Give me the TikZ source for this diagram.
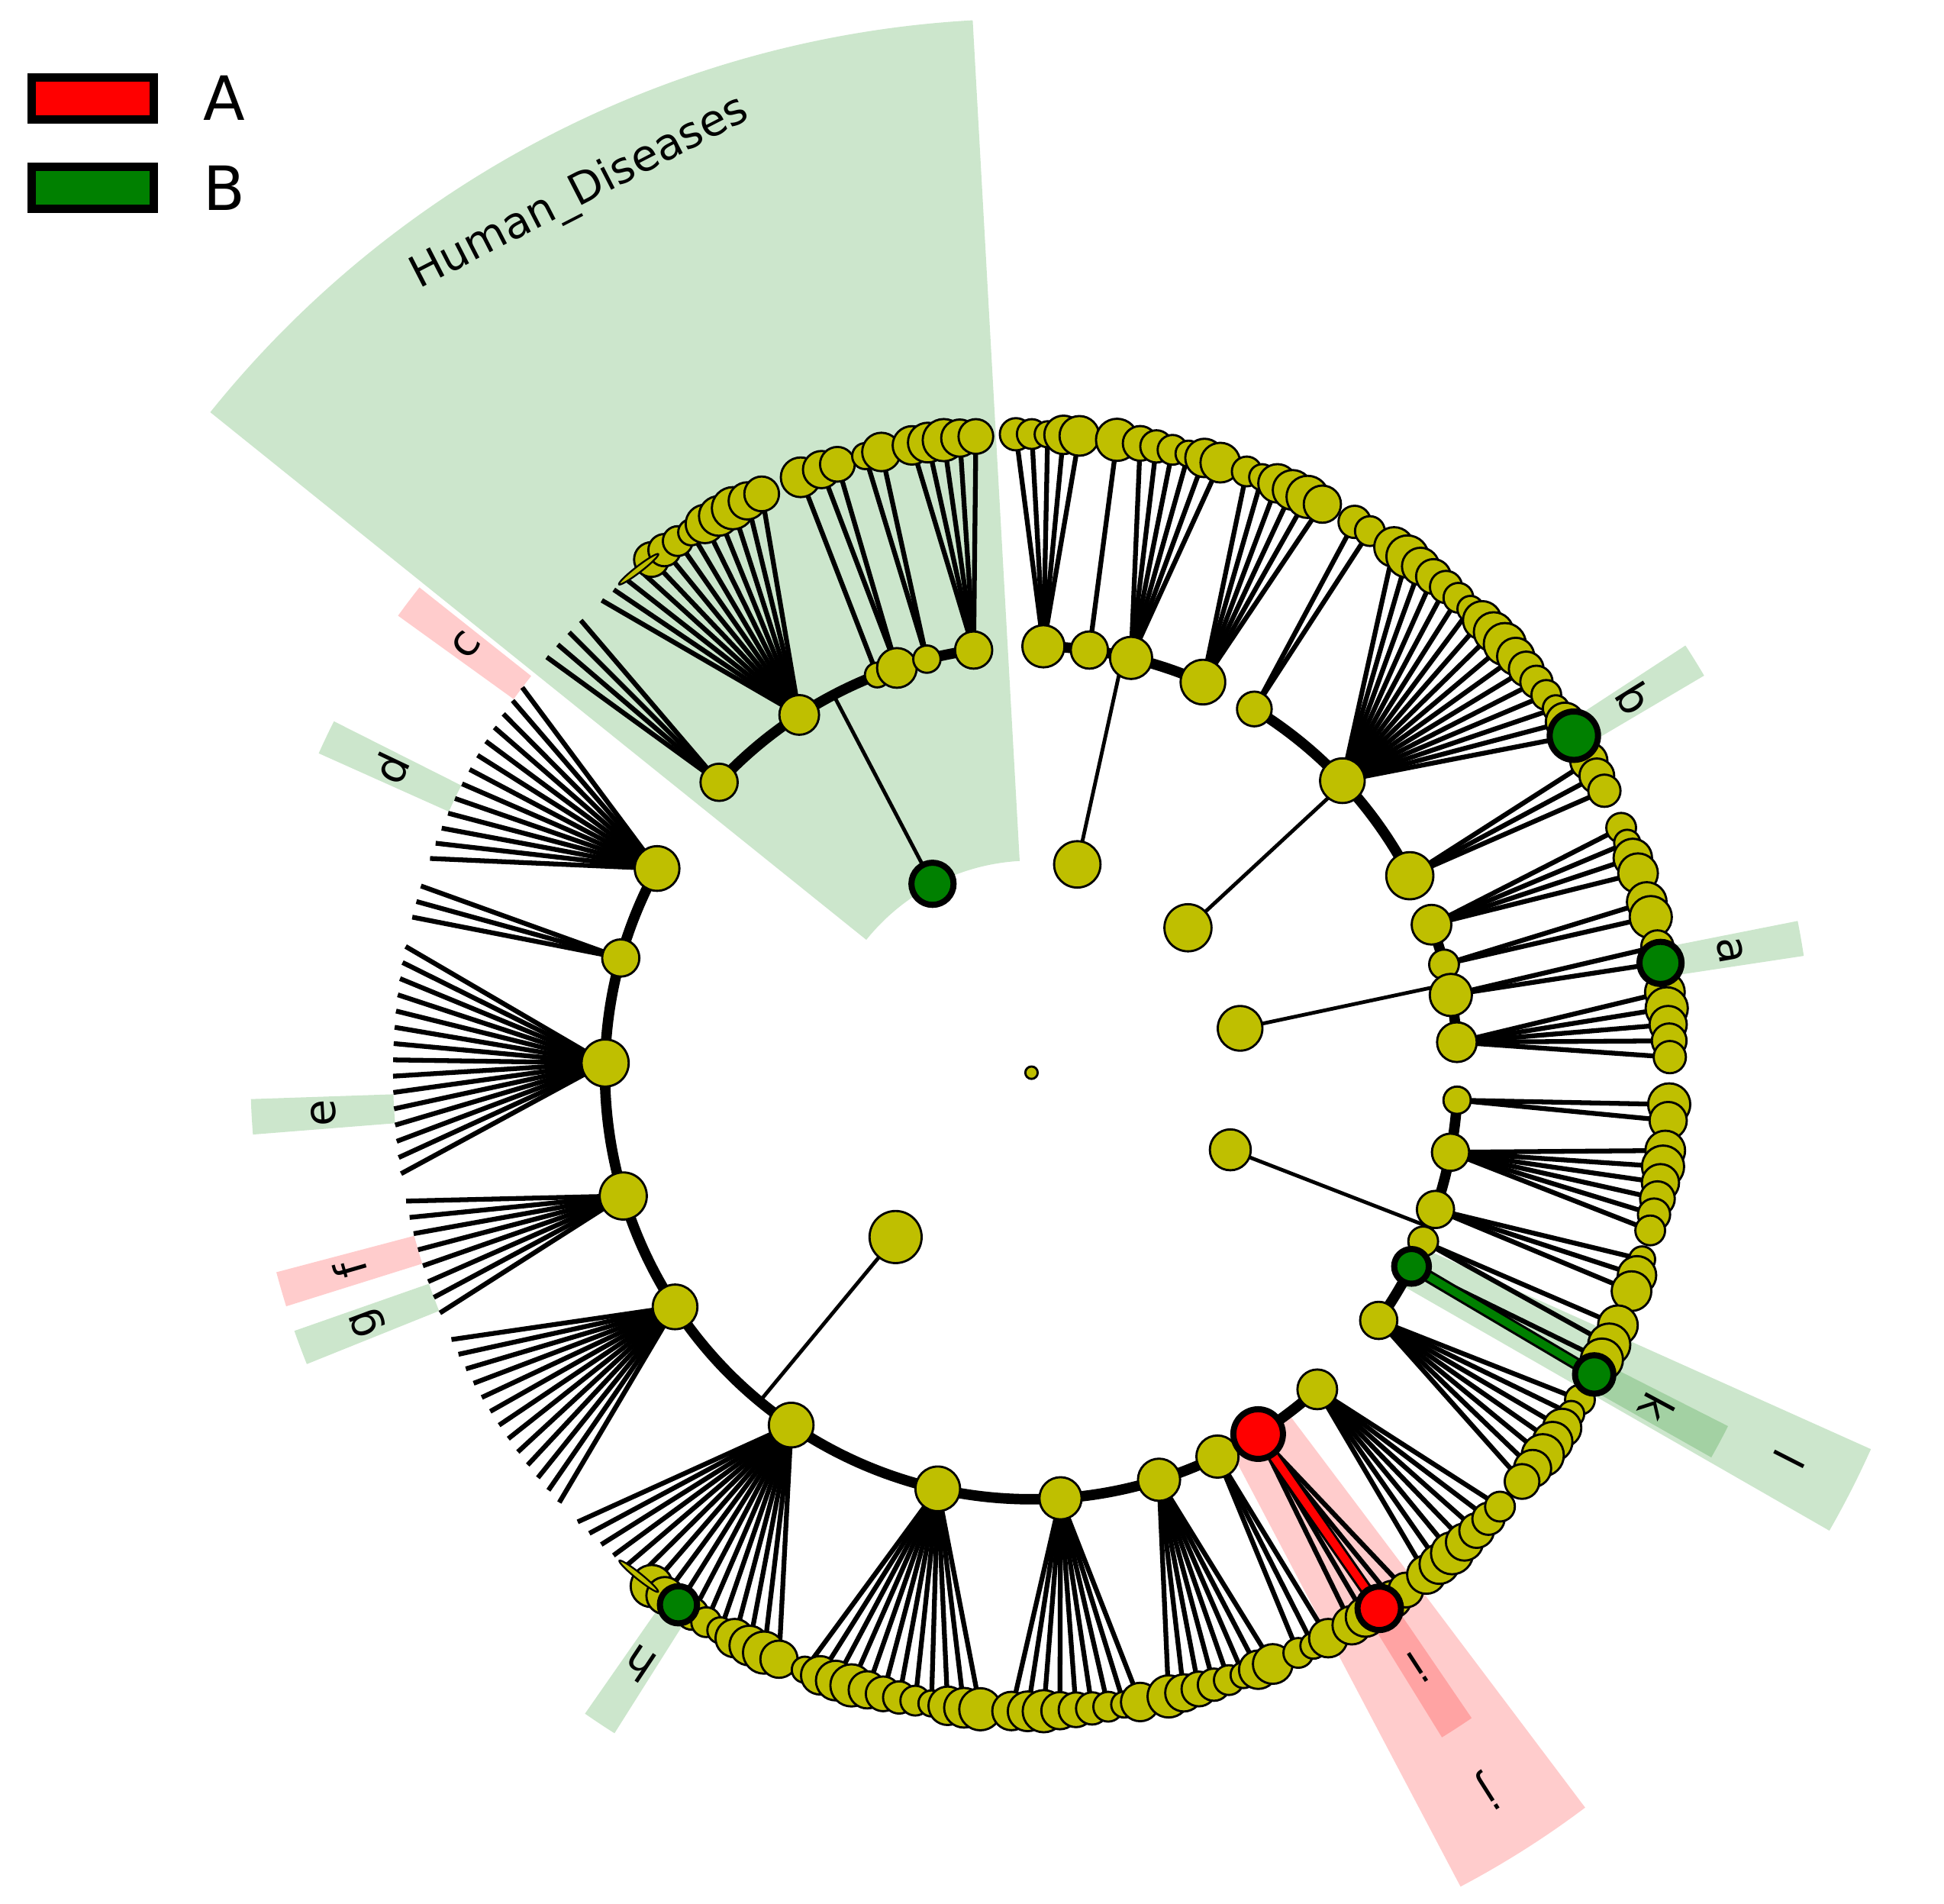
\documentclass[tikz,border=0pt]{standalone}
\usepackage{fontspec}
\setmainfont{DejaVu Sans}
\usetikzlibrary{calc}

\definecolor{cladeyel}{rgb}{0.75,0.75,0}
\definecolor{cladegrn}{rgb}{0,0.5,0}
\definecolor{cladered}{rgb}{1,0,0}

\pgfdeclarelayer{shade}
\pgfdeclarelayer{wire}
\pgfsetlayers{shade,wire,main}

\tikzset{
  dot/.style={circle, draw=black, line width=0.5pt, fill=cladeyel, inner sep=0pt},
  hitdot/.style={circle, draw=black, line width=1.4pt, inner sep=0pt},
  sliver/.style={fill=cladeyel, draw=black, line width=0.4pt},
  fanline/.style={line width=1.1pt},
  stem/.style={line width=0.85pt},
  ring/.style={line width=2.4pt},
  hitline/.style={line width=2.9pt},
  lbl/.style={font=\fontsize{10}{12}\selectfont, inner sep=0pt},
  legbox/.style={draw=black, line width=1.9pt, minimum width=0.99cm, minimum height=0.34cm, inner sep=0pt},
  legtext/.style={font=\fontsize{14}{16}\selectfont, inner sep=0pt},
}

% colour, start angle, end angle, inner radius, outer radius
\newcommand\cladesector[5]{%
  \fill[#1, fill opacity=0.2] (#2:#4) arc[start angle=#2, end angle=#3, radius=#4]
    -- (#3:#5) arc[start angle=#3, end angle=#2, radius=#5] -- cycle;}

\begin{document}
\begin{tikzpicture}
\useasboundingbox (-8.32,-6.70) rectangle (7.36,8.65);

% shaded clades
\begin{pgfonlayer}{shade}
\cladesector{cladegrn}{93.2}{141.2}{1.71}{8.50}
\cladesector{cladegrn}{-24.15}{-29.85}{3.44}{7.42}
\cladesector{cladered}{297.8}{307.0}{3.44}{7.42}
\foreach \th/\col in {9.9/cladegrn, 31.85/cladegrn, 142.9/cladered, 154.57/cladegrn,
  183.24/cladegrn, 196.1/cladered, 200.6/cladegrn, 236.43/cladegrn, 303.0/cladered, -28.2/cladegrn}{
  \cladesector{\col}{\th-1.3}{\th+1.3}{5.15}{6.30}
}
\end{pgfonlayer}

% labels
\foreach \t/\th in {a/9.9, b/31.85, c/142.9, d/154.57, e/183.24, f/196.1, g/200.6, h/236.43, i/303.0, k/-28.2}{
  \node[lbl, rotate=\th-90] (lab-\t) at (\th:5.72) {\t};
}
\node[lbl, rotate=-117] (lab-l) at (-27:6.86) {l};
\node[lbl, rotate=212.4] (lab-j) at (302.4:6.86) {j};
\node[lbl, rotate=27.2] (lab-hd) at (117.2:7.97) {Human\_Diseases};

% root and first level
\node[dot, minimum size=0.10cm] (root) at (0,0) {};
\foreach \nm/\th/\r/\sty/\col in {tl/117.67/17/hitdot/cladegrn, tt/77.6/18.7/dot/cladeyel,
  tu/42.8/19/dot/cladeyel, tv/12.0/18/dot/cladeyel, tw/-21.2/16.5/dot/cladeyel, tb/230.4/21/dot/cladeyel}{
  \node[\sty, fill=\col, minimum size=\r*0.02cm] (\nm) at (\th:1.72) {};
  \coordinate (\nm-foot) at (\th:3.44);
  \begin{pgfonlayer}{wire}
    \draw[stem] (\nm.center) -- (\nm-foot);
  \end{pgfonlayer}
}

% second level with fans of leaves
\foreach \nm/\th/\r/\sty/\col/\ta/\tb/\cnt/\bare in {
  n1/137.1/15/dot/cladeyel/139.4/134.9/4/4,
  n2/123.0/16/dot/cladeyel/132.3/115.0/13/4,
  n3/111.2/10/dot/cladeyel/111.2/111.2/1/0,
  n4/108.4/16/dot/cladeyel/109.2/107.7/2/0,
  n5/104.2/11/dot/cladeyel/105.1/103.6/2/0,
  n6/97.8/15/dot/cladeyel/100.8/95.0/5/0,
  t1/88.4/17/dot/cladeyel/91.4/85.7/5/0,
  t2/82.2/15/dot/cladeyel/82.3/82.3/1/0,
  t3/76.5/17/dot/cladeyel/80.2/72.8/6/0,
  t4/66.3/18/dot/cladeyel/70.3/62.9/6/0,
  u1/58.5/14/dot/cladeyel/59.6/58.0/2/0,
  u2/43.2/18/dot/cladeyel/55.4/31.85/17/0,
  u3/27.5/19/dot/cladeyel/29.2/26.2/3/0,
  v1/20.3/16/dot/cladeyel/22.55/18.2/4/0,
  v2/14.7/12/dot/cladeyel/15.5/14.1/2/0,
  v3/10.5/17/dot/cladeyel/11.4/9.9/2/0,
  v4/4.1/16/dot/cladeyel/7.25/1.4/5/0,
  w1/-3.7/11/dot/cladeyel/-2.85/-4.3/2/0,
  w2/-10.75/15/dot/cladeyel/-7.0/-14.3/6/0,
  w3/-18.7/15/dot/cladeyel/-17.0/-20.0/3/0,
  w4/-23.3/12/dot/cladeyel/-23.3/-25.2/2/0,
  w5/-27.0/14/hitdot/cladegrn/-26.7/-28.2/2/0,
  w6/-35.5/15/dot/cladeyel/-30.8/-39.8/7/0,
  l1/151.4/18/dot/cladeyel/142.9/160.4/13/13,
  l2/164.4/15/dot/cladeyel/163.0/165.9/3/3,
  l3/178.7/19/dot/cladeyel/168.6/189.1/15/15,
  l4/196.8/19/dot/cladeyel/191.6/202.1/8/8,
  l5/213.3/18/dot/cladeyel/204.7/222.3/13/13,
  l6/235.7/18/dot/cladeyel/224.7/246.7/16/6,
  l7/257.3/18/dot/cladeyel/249.2/265.4/12/0,
  l8/273.9/17/dot/cladeyel/268.2/279.8/9/0,
  l9/287.4/17/dot/cladeyel/282.4/292.2/8/0,
  l10/295.85/17/dot/cladeyel/294.7/297.7/3/0,
  l11/302.1/20/hitdot/cladered/300.1/305.9/5/0,
  l12/312.07/16/dot/cladeyel/308.2/317.2/7/0}{
  \node[\sty, fill=\col, minimum size=\r*0.02cm] (\nm) at (\th:3.44) {};
  \pgfmathsetmacro\dth{(\tb-\ta)/max(\cnt-1,1)}
  \foreach \k in {1,...,\cnt}{
    \pgfmathsetmacro\tk{\ta+(\k-1)*\dth}
    \pgfmathsetmacro\lr{{0.30,0.24,0.32,0.28,0.21,0.34,0.26,0.31}[mod(\k*3+int(abs(\ta)),8)]}
    \ifnum\k>\bare
      \node[dot, minimum size=\lr cm] (\nm-\k) at (\tk:5.15) {};
    \else
      \coordinate (\nm-\k) at (\tk:5.15);
    \fi
    \begin{pgfonlayer}{wire}
      \draw[fanline] (\nm.center) -- (\nm-\k.center);
    \end{pgfonlayer}
  }
}

% thin slivers where the drawn leaves begin
\draw[sliver, rotate around={127.6:(n2-4)}] (n2-4) ellipse[x radius=0.025, y radius=0.2];
\draw[sliver, rotate around={231.2:(l6-6)}] (l6-6) ellipse[x radius=0.025, y radius=0.2];

% arcs joining the second level
\begin{pgfonlayer}{wire}
\foreach \nm/\a/\b in {n1/137.1/97.8, t1/88.4/66.3, u1/58.5/27.5, v1/20.3/4.1, w1/-3.7/-35.5, l1/151.4/312.07}{
  \draw[ring] (\nm.center) arc[start angle=\a, end angle=\b, radius=3.44];
}
\end{pgfonlayer}

% marked leaves
\foreach \t/\th/\r/\col in {a/9.9/17/cladegrn, b/31.85/19.5/cladegrn, h/236.43/15/cladegrn,
  i/303.0/17.5/cladered, k/-28.2/15.5/cladegrn}{
  \node[hitdot, fill=\col, minimum size=\r*0.02cm] (hit-\t) at (\th:5.15) {};
}
\begin{pgfonlayer}{wire}
  \draw[hitline] (w5.center) -- (hit-k.center);
  \draw[line width=1.8pt, cladegrn] (w5.center) -- (hit-k.center);
  \draw[hitline] (l11.center) -- (hit-i.center);
  \draw[line width=1.8pt, cladered] (l11.center) -- (hit-i.center);
\end{pgfonlayer}

% legend
\node[legbox, fill=cladered] (key-a) at (-7.572,7.857) {};
\node[legbox, fill=cladegrn] (key-b) at (-7.572,7.134) {};
\node[legtext] (txt-a) at (-6.51,7.857) {A};
\node[legtext] (txt-b) at (-6.51,7.134) {B};
\end{tikzpicture}
\end{document}
